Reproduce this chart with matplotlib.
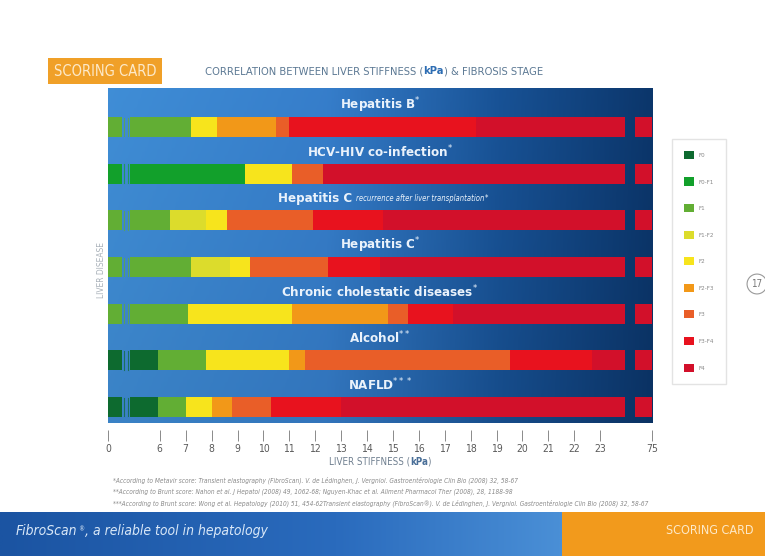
import numpy as np
import matplotlib
matplotlib.use("Agg")
import matplotlib.pyplot as plt
from matplotlib import font_manager
from matplotlib.colors import LinearSegmentedColormap
from matplotlib.patches import Patch

# ---- data -------------------------------------------------------------
DISEASES = ["Hepatitis B", "HCV-HIV co-infection", "Hepatitis C",
            "Hepatitis C", "Chronic cholestatic diseases", "Alcohol", "NAFLD"]
NOTES = ["*", "*", "*", "*", "*", "**", "***"]

# cut-offs in kPa (segment edges) and the stage of each segment
EDGES = [
    [0, 7.2, 8.2, 10.5, 11.0, 18.2, 75],
    [0, 9.3, 11.1, 12.3, 75],
    [0, 6.4, 7.8, 8.6, 11.9, 14.6, 75],
    [0, 7.2, 8.7, 9.5, 12.5, 14.5, 75],
    [0, 7.1, 11.1, 14.8, 15.6, 17.3, 75],
    [0, 5.8, 7.8, 11.0, 11.6, 19.5, 22.7, 75],
    [0, 5.8, 7.0, 8.0, 8.8, 10.3, 13.0, 75],
]
STAGES = [
    ["F1", "F2", "F2-F3", "F3", "F3-F4", "F4"],
    ["F0-F1", "F2", "F3", "F4"],
    ["F1", "F1-F2", "F2", "F3", "F3-F4", "F4"],
    ["F1", "F1-F2", "F2", "F3", "F3-F4", "F4"],
    ["F1", "F2", "F2-F3", "F3", "F3-F4", "F4"],
    ["F0", "F1", "F2", "F2-F3", "F3", "F3-F4", "F4"],
    ["F0", "F1", "F2", "F2-F3", "F3", "F3-F4", "F4"],
]
LEGEND_STAGES = ["F0", "F0-F1", "F1", "F1-F2", "F2", "F2-F3", "F3", "F3-F4", "F4"]
TICK_KPA = [0, 6, 7, 8, 9, 10, 11, 12, 13, 14, 15, 16, 17, 18, 19, 20, 21, 22, 23, 75]

FOOTNOTES = [
    "*According to Metavir score: Transient elastography (FibroScan). V. de L\u00e9dinghen, J. Vergniol. "
    "Gastroent\u00e9rologie Clin Bio (2008) 32, 58-67",
    "**According to Brunt score: Nahon et al. J Hepatol (2008) 49, 1062-68; Nguyen-Khac et al. "
    "Aliment Pharmacol Ther (2008), 28, 1188-98",
    "***According to Brunt score: Wong et al. Hepatology (2010) 51, 454-62Transient elastography "
    "(FibroScan\u00ae). V. de L\u00e9dinghen, J. Vergniol. Gastroent\u00e9rologie Clin Bio (2008) 32, 58-67",
]

# ---- style ------------------------------------------------------------
STAGE_COLORS = {
    "F0": "#0d6a2f", "F0-F1": "#12a02b", "F1": "#62ae34", "F1-F2": "#dcdc2c",
    "F2": "#f7e41c", "F2-F3": "#f29818", "F3": "#e95e28", "F3-F4": "#e8121e",
    "F4": "#d2102a",
}
# axis breaks (kPa ranges left empty)
VISIBLE = [(0, 1.6), (2.6, 48), (58, 75)]

names = {f.name for f in font_manager.fontManager.ttflist}
NARROW = "Liberation Sans Narrow" if "Liberation Sans Narrow" in names else "DejaVu Sans"
plt.rcParams["font.family"] = [NARROW, "DejaVu Sans"]
plt.rcParams["font.stretch"] = "condensed"

# piecewise scale: 0-6 and 23-75 squeezed
KNOT_KPA = [0, 6, 7, 8, 9, 10, 11, 12, 13, 14, 15, 16, 17, 18, 19, 20, 21, 22, 23, 75]
KNOT_POS = [0, 2, 3, 4, 5, 6, 7, 8, 9, 10, 11, 12, 13, 14, 15, 16, 17, 18, 19, 21]


def fwd(x):
    return np.interp(x, KNOT_KPA, KNOT_POS)


def inv(x):
    return np.interp(x, KNOT_POS, KNOT_KPA)


W, H = 765, 556
fig = plt.figure(figsize=(W / 100, H / 100), dpi=100)
fig.patch.set_facecolor("white")


def rect(x0, y0, x1, y1):
    # pixel box (top-left origin) -> figure rect
    return [x0 / W, 1 - y1 / H, (x1 - x0) / W, (y1 - y0) / H]


renderer = fig.canvas.get_renderer()


def put_parts(x, y, parts, ha="left"):
    texts = []
    for s, kw in parts:
        texts.append(fig.text(0, y, s, va="center", **kw))
    widths = [t.get_window_extent(renderer).width / fig.bbox.width for t in texts]
    if ha == "center":
        x -= sum(widths) / 2
    for t, w in zip(texts, widths):
        t.set_x(x)
        x += w


# ---- header -----------------------------------------------------------
fig.text(105 / W, 1 - 71 / H, "SCORING CARD", ha="center", va="center",
         fontsize=10.5, color="#fde9c8",
         bbox=dict(boxstyle="square,pad=0.4", fc="#f0a028", ec="none"))
put_parts(205 / W, 1 - 71 / H, [
    ("CORRELATION BETWEEN LIVER STIFFNESS (", dict(fontsize=8, color="#5b7893")),
    ("kPa", dict(fontsize=8, color="#2d6db3", fontweight="bold")),
    (") & FIBROSIS STAGE", dict(fontsize=8, color="#5b7893")),
])

# ---- panel background -------------------------------------------------
bg = fig.add_axes(rect(108, 88, 652, 423))
bg.axis("off")
cmap = LinearSegmentedColormap.from_list(
    "panel", [(0, "#3d88ce"), (0.4, "#3479c3"), (0.72, "#174f90"), (1, "#0b3467")])
ramp = cmap(np.linspace(0, 1, 400))[None, :, :3]
shade = np.linspace(1.04, 0.96, 100)[:, None, None]
bg.imshow(np.clip(ramp * shade, 0, 1), aspect="auto", extent=[0, 1, 0, 1])
bg.set_xlim(0, 1)
bg.set_ylim(0, 1)

ax = fig.add_axes(rect(108, 88, 652, 423))
ax.set_facecolor("none")
ax.set_xscale("function", functions=(fwd, inv))
ax.set_xlim(0, 75)
n = len(DISEASES)
ax.set_ylim(n - 1 + 0.34, -0.835)

for i, (edges, stages) in enumerate(zip(EDGES, STAGES)):
    for lo, hi, st in zip(edges[:-1], edges[1:], stages):
        for vlo, vhi in VISIBLE:
            a, b = max(lo, vlo), min(hi, vhi)
            if b > a:
                ax.barh(i, b - a, left=a, height=0.43, color=STAGE_COLORS[st],
                        linewidth=0, zorder=2)
    # break marks in the first gap
    for xb in (1.85, 2.35):
        ax.plot([xb, xb], [i - 0.2, i + 0.2], color=STAGE_COLORS[stages[0]],
                lw=0.8, alpha=0.7, zorder=2)

ytr = ax.get_yaxis_transform()
for i, (name, note) in enumerate(zip(DISEASES, NOTES)):
    if i == 2:
        continue
    ax.text(0.5, i - 0.47, name + r"$^{%s}$" % note, transform=ytr, ha="center",
            va="center", fontsize=9.5, fontweight="bold", color="#eaf2fb")

# Hepatitis C with italic subtitle
fig.canvas.draw()
y_px = ax.transData.transform((0, 2 - 0.47))[1]
put_parts(0.5 * (108 + 652) / W + 0.005, y_px / fig.bbox.height, [
    ("Hepatitis C ", dict(fontsize=9.5, fontweight="bold", color="#eaf2fb")),
    ("recurrence after liver transplantation", dict(fontsize=5.5, style="italic", color="#eaf2fb")),
    (r"$^{*}$", dict(fontsize=8, color="#eaf2fb")),
], ha="center")

ax.set_yticks([])
for s in ("top", "right", "left"):
    ax.spines[s].set_visible(False)
ax.spines["bottom"].set_position(("outward", 5))
ax.spines["bottom"].set_visible(False)
ax.set_xticks(TICK_KPA)
ax.set_xticklabels([str(t) for t in TICK_KPA])
ax.xaxis.set_minor_locator(matplotlib.ticker.NullLocator())
ax.tick_params(axis="x", direction="out", length=8, width=0.7, color="#8a8a8a",
               labelsize=7.5, labelcolor="#5a5a5a", pad=2)

put_parts(380 / W, 1 - 462 / H, [
    ("LIVER STIFFNESS (", dict(fontsize=7, color="#6f7f8f")),
    ("kPa", dict(fontsize=7, color="#4a6f98", fontweight="bold")),
    (")", dict(fontsize=7, color="#6f7f8f")),
], ha="center")

fig.text(102 / W, 1 - 270 / H, "LIVER DISEASE", rotation=90, ha="center",
         va="center", fontsize=6, color="#a8b0b8")

# ---- legend -----------------------------------------------------------
handles = [Patch(facecolor=STAGE_COLORS[s], edgecolor="none") for s in LEGEND_STAGES]
fig.legend(handles, LEGEND_STAGES, loc="upper left",
           bbox_to_anchor=(672 / W, 1 - 139 / H), fontsize=4.5,
           handlelength=1.6, handleheight=1.6, labelspacing=2.97,
           handletextpad=0.8, borderpad=1.9, borderaxespad=0, frameon=True,
           fancybox=False, edgecolor="#dddddd", facecolor="white",
           labelcolor="#888888")

fig.text(757 / W, 1 - 284 / H, "17", ha="center", va="center", fontsize=7,
         color="#777777",
         bbox=dict(boxstyle="circle,pad=0.45", fc="white", ec="#999999", lw=0.8))

# ---- footnotes --------------------------------------------------------
for k, note in enumerate(FOOTNOTES):
    fig.text(113 / W, 1 - (480 + 11.5 * k) / H, note, ha="left", va="center",
             fontsize=4.7, style="italic", color="#8a8a8a")

# ---- footer band ------------------------------------------------------
fb = fig.add_axes(rect(0, 512, 562, 556))
fb.axis("off")
fcmap = LinearSegmentedColormap.from_list(
    "foot", [(0, "#1b54a2"), (0.6, "#2a6bbd"), (1, "#4a8fd6")])
fb.imshow(fcmap(np.linspace(0, 1, 300))[None, :, :3], aspect="auto", extent=[0, 1, 0, 1])
fo = fig.add_axes(rect(562, 512, W, 556))
fo.axis("off")
fo.add_patch(plt.Rectangle((0, 0), 1, 1, color="#f29a1c", transform=fo.transAxes))

put_parts(16 / W, 1 - 531 / H, [
    ("FibroScan", dict(fontsize=10, style="italic", color="#d9e8f8")),
    (r"$^{\circledR}$", dict(fontsize=7, color="#d9e8f8")),
    (", a reliable tool in hepatology", dict(fontsize=10, style="italic", color="#d9e8f8")),
])
fig.text(710 / W, 1 - 531 / H, "SCORING CARD", ha="center", va="center",
         fontsize=9, color="#fde9c8")

fig.savefig("out.png", dpi=100)
